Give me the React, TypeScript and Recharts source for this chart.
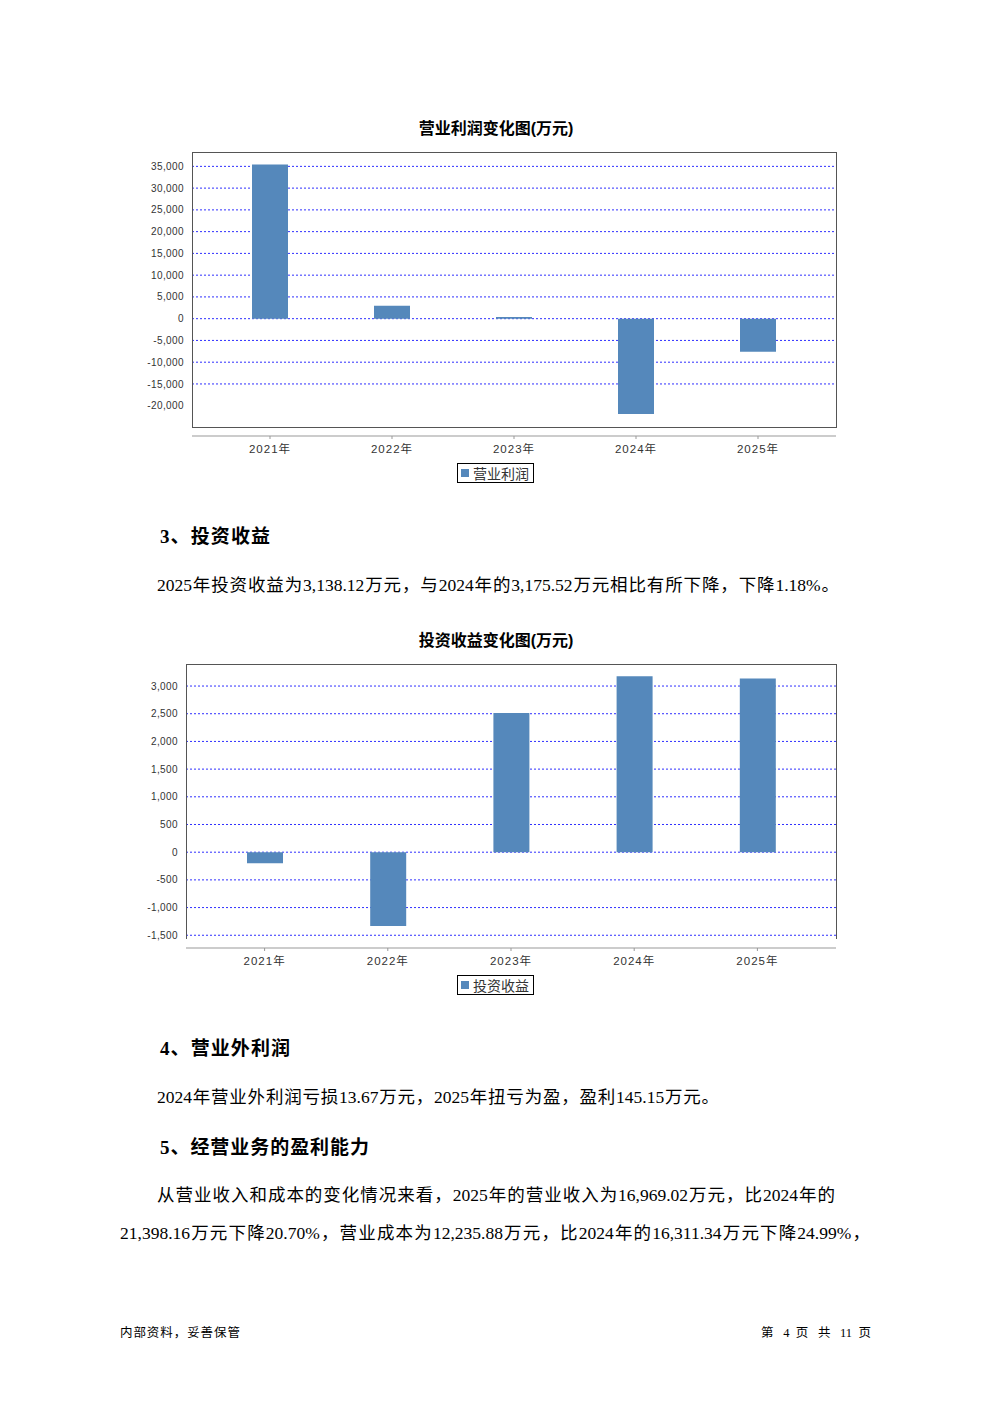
import React from "react";
import { BarChart, Bar, XAxis, YAxis, CartesianGrid } from "recharts";

const years = ["2021年", "2022年", "2023年", "2024年", "2025年"];
const profitValues = [35400, 2990, 400, -21900, -7580];
const investValues = [-199, -1332, 2512, 3175.52, 3138.12];
const profitTicks = [-20000, -15000, -10000, -5000, 0, 5000, 10000, 15000, 20000, 25000, 30000, 35000];
const profitGrid = [-15000, -10000, -5000, 0, 5000, 10000, 15000, 20000, 25000, 30000, 35000];
const investTicks = [-1500, -1000, -500, 0, 500, 1000, 1500, 2000, 2500, 3000];

const profitData = years.map((year, i) => ({ year, value: profitValues[i] }));
const investData = years.map((year, i) => ({ year, value: investValues[i] }));

const BAR = "#5588bb";
const GRID = "#2f2fff";
const CJK_SANS = "'Liberation Sans', 'Noto Sans CJK SC', sans-serif";
const SERIF = "'Liberation Serif', 'Noto Sans CJK SC', serif";

const fmt = (v: number) => v.toLocaleString("en-US");

function LegendBox({ label, left, top }: { label: string; left: number; top: number }) {
  return (
    <div
      style={{
        position: "absolute",
        left,
        top,
        display: "flex",
        alignItems: "center",
        border: "1.5px solid #000",
        height: 18,
        padding: "0 4px 0 3px",
        fontFamily: CJK_SANS,
        fontSize: 14,
        color: "#333",
        background: "#fff",
      }}
    >
      <span style={{ width: 8, height: 8, background: BAR, marginRight: 4, display: "inline-block" }} />
      {label}
    </div>
  );
}

// plot frame drawn around the chart area
function Frame({ left, top, width, height, noBottom }: any) {
  return (
    <div
      style={{
        position: "absolute",
        left,
        top,
        width,
        height,
        boxSizing: "border-box",
        border: "1px solid #555",
        borderBottom: noBottom ? "none" : "1px solid #555",
        pointerEvents: "none",
      }}
    />
  );
}

function Line({ top, left, width, size, children, bold, justify = true }: any) {
  return (
    <div
      style={{
        position: "absolute",
        top: top - size / 2,
        left,
        width,
        fontSize: size,
        lineHeight: `${size}px`,
        fontFamily: SERIF,
        fontWeight: bold ? 700 : 400,
        color: "#000",
        whiteSpace: "nowrap",
        textAlign: justify ? "justify" : "left",
        textAlignLast: justify ? "justify" : "left",
      }}
    >
      {children}
    </div>
  );
}

function Title({ top, text }: { top: number; text: string }) {
  return (
    <div
      style={{
        position: "absolute",
        top: top - 10,
        left: 0,
        width: 992,
        textAlign: "center",
        fontFamily: CJK_SANS,
        fontWeight: 700,
        fontSize: 16,
        lineHeight: "20px",
        color: "#000",
      }}
    >
      {text}
    </div>
  );
}

const xTick = { fontSize: 11.5, fill: "#333", fontFamily: CJK_SANS, letterSpacing: 1 };
const yTick = { fontSize: 10, fill: "#333", fontFamily: CJK_SANS, letterSpacing: 0.4 };

export default function App() {
  return (
    <div style={{ position: "absolute", left: 0, top: 0, width: 992, height: 1403, background: "#fff", overflow: "hidden" }}>
      <Title top={129} text="营业利润变化图(万元)" />
      <div style={{ position: "absolute", left: 130, top: 140 }}>
        <BarChart width={720} height={326} data={profitData} margin={{ top: 12, right: 14, left: 2, bottom: 0 }}>
          <CartesianGrid vertical={false} stroke={GRID} strokeDasharray="2 2" horizontalValues={profitGrid} />
          <XAxis
            dataKey="year"
            height={30}
            padding={{ left: 17, right: 17 }}
            axisLine={{ stroke: "#999" }}
            tickLine={{ stroke: "#999" }}
            tickSize={3}
            tickMargin={6}
            tick={xTick}
          />
          <YAxis
            width={60}
            domain={[-26960, 38300]}
            allowDataOverflow
            ticks={profitTicks}
            interval={0}
            axisLine={false}
            tickLine={false}
            tickFormatter={fmt}
            tick={yTick}
          />
          <Bar dataKey="value" name="营业利润" fill={BAR} barSize={36} isAnimationActive={false} />
        </BarChart>
      </div>
      <Frame left={192} top={152} width={645} height={276} />
      <LegendBox label="营业利润" left={457} top={463} />

      <Line top={536} left={160} width={110} size={19} bold>3、投资收益</Line>
      <Line top={586} left={157} width={682} size={17.5}>
        2025年投资收益为3,138.12万元，与2024年的3,175.52万元相比有所下降，下降1.18%。
      </Line>

      <Title top={641} text="投资收益变化图(万元)" />
      <div style={{ position: "absolute", left: 124, top: 652 }}>
        <BarChart width={726} height={326} data={investData} margin={{ top: 12, right: 14, left: 2, bottom: 0 }}>
          <CartesianGrid vertical={false} stroke={GRID} strokeDasharray="2 2" horizontalValues={investTicks} />
          <XAxis
            dataKey="year"
            height={30}
            padding={{ left: 17, right: 17 }}
            axisLine={{ stroke: "#999" }}
            tickLine={{ stroke: "#999" }}
            tickSize={3}
            tickMargin={6}
            tick={xTick}
          />
          <YAxis
            width={60}
            domain={[-1730, 3398]}
            allowDataOverflow
            ticks={investTicks}
            interval={0}
            axisLine={false}
            tickLine={false}
            tickFormatter={fmt}
            tick={yTick}
          />
          <Bar dataKey="value" name="投资收益" fill={BAR} barSize={36} isAnimationActive={false} />
        </BarChart>
      </div>
      <Frame left={186} top={664} width={651} height={275} noBottom />
      <LegendBox label="投资收益" left={457} top={975} />

      <Line top={1048} left={160} width={130} size={19} bold>4、营业外利润</Line>
      <Line top={1098} left={157} width={562} size={17.5}>
        2024年营业外利润亏损13.67万元，2025年扭亏为盈，盈利145.15万元。
      </Line>

      <Line top={1147} left={160} width={209} size={19} bold>5、经营业务的盈利能力</Line>
      <Line top={1196} left={157} width={678} size={17.5}>
        从营业收入和成本的变化情况来看，2025年的营业收入为16,969.02万元，比2024年的
      </Line>
      <Line top={1234} left={120} width={750} size={17.5}>
        21,398.16万元下降20.70%，营业成本为12,235.88万元，比2024年的16,311.34万元下降24.99%，
      </Line>

      <Line top={1333} left={120} width={120} size={12.5}>内部资料，妥善保管</Line>
      <Line top={1333} left={761} width={110} size={12.5}>第 4 页  共 11 页</Line>
    </div>
  );
}
